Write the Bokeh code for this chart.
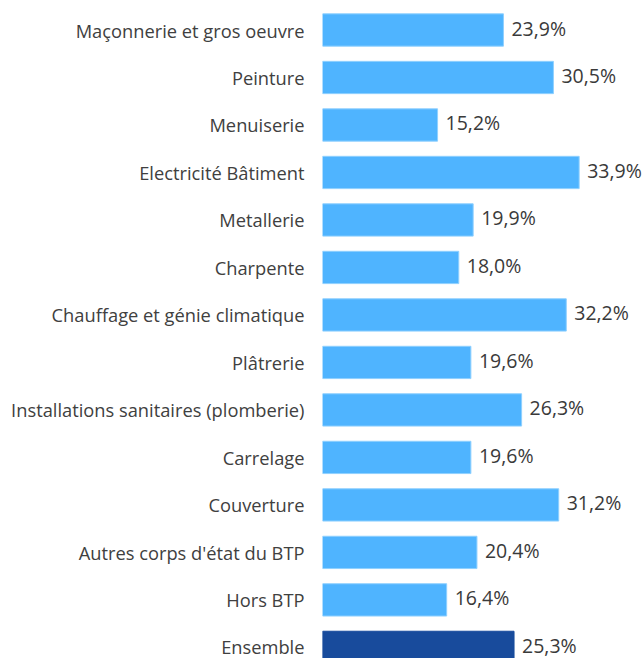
from bokeh.plotting import figure
from bokeh.models import ColumnDataSource, Range1d, FixedTicker
from bokeh.core.properties import value
from bokeh.embed import file_html
from bokeh.resources import INLINE

categories = [
    "Maçonnerie et gros oeuvre",
    "Peinture",
    "Menuiserie",
    "Electricité Bâtiment",
    "Metallerie",
    "Charpente",
    "Chauffage et génie climatique",
    "Plâtrerie",
    "Installations sanitaires (plomberie)",
    "Carrelage",
    "Couverture",
    "Autres corps d'état du BTP",
    "Hors BTP",
    "Ensemble",
]
values = [23.9, 30.5, 15.2, 33.9, 19.9, 18.0, 32.2, 19.6, 26.3, 19.6, 31.2, 20.4, 16.4, 25.3]
highlight = "Ensemble"

LIGHT = "#4fb4ff"
DARK = "#184b9c"

idx = list(range(len(categories)))
src = ColumnDataSource(dict(
    y=idx,
    v=values,
    lab=[("%.1f" % v).replace(".", ",") + "%" for v in values],
    color=[DARK if c == highlight else LIGHT for c in categories],
    line=["#184b9c" if c == highlight else "#8fd0ff" for c in categories],
))

p = figure(width=643, height=658, output_backend="svg", toolbar_location=None,
           x_range=Range1d(0, 42.4), y_range=Range1d(13.234, -0.6212),
           min_border_left=322, min_border_right=0, min_border_top=0, min_border_bottom=0)

p.hbar(y="y", left=0, right="v", height=0.68, source=src,
       fill_color="color", line_color="line", line_width=1)

p.text(x="v", y="y", text="lab", source=src, x_offset=8, y_offset=-2,
       text_align="left", text_baseline="middle",
       text_font=value("Open Sans"), text_font_size="19.5px", text_color="#3a3a3a")

p.xaxis.visible = False
p.yaxis.ticker = FixedTicker(ticks=idx)
p.yaxis.major_label_overrides = {i: c for i, c in zip(idx, categories)}
p.yaxis.axis_line_color = None
p.yaxis.major_tick_line_color = None
p.yaxis.minor_tick_line_color = None
p.yaxis.major_tick_out = 0
p.yaxis.major_tick_in = 0
p.yaxis.major_label_standoff = 18
p.yaxis.major_label_text_font = "Open Sans"
p.yaxis.major_label_text_font_size = "18.3px"
p.yaxis.major_label_text_color = "#404040"
p.xgrid.visible = False
p.ygrid.visible = False
p.outline_line_color = None

open("out.html", "w").write(file_html(p, INLINE))
